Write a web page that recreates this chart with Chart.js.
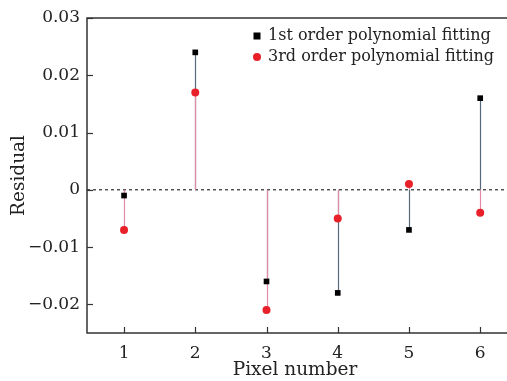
<!DOCTYPE html>
<html>
<head>
<meta charset="utf-8">
<script src="https://cdn.jsdelivr.net/npm/chart.js@4"></script>
<style>
  html, body { margin: 0; padding: 0; background: #fff; }
  #wrap { width: 507px; height: 381px; }
</style>
</head>
<body>
<div id="wrap"><canvas id="residualChart"></canvas></div>
<script>
const pixels = [1, 2, 3, 4, 5, 6];
const firstOrder = [-0.001, 0.024, -0.016, -0.018, -0.007, 0.016];
const thirdOrder = [-0.007, 0.017, -0.021, -0.005, 0.001, -0.004];
const xTicks = [1, 2, 3, 4, 5, 6];
const yTicks = [-0.02, -0.01, 0, 0.01, 0.02, 0.03];

const serif = "'DejaVu Serif', 'Liberation Serif', serif";
const axisColor = '#333';

function fmtY(v) {
    if (Math.abs(v) < 1e-9) return '0';
    const s = Math.abs(v).toFixed(2);
    return v < 0 ? '\u2212' + s : s;
}

// stems from zero, dashed zero line, inward ticks, legend
const stemPlugin = {
    id: 'stems',
    beforeDatasetsDraw(chart) {
        const ctx = chart.ctx;
        const x = chart.scales.x, y = chart.scales.y;
        const area = chart.chartArea;
        const y0 = y.getPixelForValue(0);
        ctx.save();
        ctx.strokeStyle = '#000';
        ctx.lineWidth = 1;
        ctx.setLineDash([3, 3]);
        ctx.beginPath();
        ctx.moveTo(area.left, y0);
        ctx.lineTo(chart.width, y0);
        ctx.stroke();
        ctx.setLineDash([]);
        chart.data.datasets.forEach(ds => {
            ctx.strokeStyle = ds.stemColor;
            ctx.lineWidth = 1.2;
            ds.data.forEach(p => {
                const px = Math.round(x.getPixelForValue(p.x)) + 0.5;
                ctx.beginPath();
                ctx.moveTo(px, y0);
                ctx.lineTo(px, y.getPixelForValue(p.y));
                ctx.stroke();
            });
        });
        ctx.restore();
    },
    afterDraw(chart) {
        const ctx = chart.ctx;
        const x = chart.scales.x, y = chart.scales.y;
        const area = chart.chartArea;
        ctx.save();
        // frame (left, top, bottom)
        ctx.strokeStyle = axisColor;
        ctx.lineWidth = 1.5;
        ctx.beginPath();
        ctx.moveTo(chart.width, area.top);
        ctx.lineTo(area.left, area.top);
        ctx.lineTo(area.left, area.bottom);
        ctx.lineTo(chart.width, area.bottom);
        ctx.stroke();
        ctx.lineWidth = 1.2;
        xTicks.forEach(t => {
            const px = Math.round(x.getPixelForValue(t)) + 0.5;
            ctx.beginPath();
            ctx.moveTo(px, area.bottom);
            ctx.lineTo(px, area.bottom - 6);
            ctx.stroke();
        });
        yTicks.forEach(t => {
            const py = Math.round(y.getPixelForValue(t)) + 0.5;
            ctx.beginPath();
            ctx.moveTo(area.left, py);
            ctx.lineTo(area.left + 6, py);
            ctx.stroke();
        });
        // legend
        ctx.font = '16px ' + serif;
        ctx.textBaseline = 'middle';
        const lx = 257, ly = [36, 57];
        chart.data.datasets.forEach((ds, i) => {
            ctx.fillStyle = ds.backgroundColor;
            if (ds.pointStyle === 'rect') {
                ctx.fillRect(lx - 3.5, ly[i] - 3.5, 7, 7);
            } else {
                ctx.beginPath();
                ctx.arc(lx, ly[i], 4, 0, Math.PI * 2);
                ctx.fill();
            }
            ctx.fillStyle = '#222';
            ctx.fillText(ds.label, lx + 11, ly[i]);
        });
        ctx.restore();
    }
};

new Chart(document.getElementById('residualChart'), {
    type: 'scatter',
    data: {
        datasets: [
            {
                label: '1st order polynomial fitting',
                data: pixels.map((p, i) => ({ x: p, y: firstOrder[i] })),
                pointStyle: 'rect',
                pointRadius: 4,
                backgroundColor: '#000',
                borderColor: '#000',
                borderWidth: 0,
                stemColor: '#55697a',
            },
            {
                label: '3rd order polynomial fitting',
                data: pixels.map((p, i) => ({ x: p, y: thirdOrder[i] })),
                pointStyle: 'circle',
                pointRadius: 4,
                backgroundColor: '#e8202a',
                borderColor: '#e8202a',
                borderWidth: 0,
                stemColor: '#e48aa6',
            },
        ],
    },
    options: {
        responsive: true,
        maintainAspectRatio: false,
        animation: false,
        layout: { padding: { top: 18, right: 0, left: 0, bottom: 0 } },
        plugins: {
            legend: { display: false },
            tooltip: { enabled: false },
        },
        scales: {
            x: {
                type: 'linear',
                min: 0.48,
                max: 6.32,
                afterBuildTicks: axis => {
                    axis.ticks = xTicks.map(v => ({ value: v }));
                },
                afterFit: axis => { axis.height = 48; },
                grid: { display: false, drawTicks: false },
                border: { display: false },
                ticks: {
                    color: '#222',
                    padding: 10,
                    font: { family: serif, size: 17 },
                },
                title: {
                    display: true,
                    text: 'Pixel number',
                    color: '#222',
                    padding: { top: 0, bottom: 0 },
                    font: { family: serif, size: 18.5 },
                },
            },
            y: {
                min: -0.025,
                max: 0.03,
                afterBuildTicks: axis => {
                    axis.ticks = yTicks.map(v => ({ value: v }));
                },
                afterFit: axis => { axis.width = 87; },
                grid: { display: false, drawTicks: false },
                border: { display: false },
                ticks: {
                    color: '#222',
                    padding: 7,
                    font: { family: serif, size: 17 },
                    callback: v => fmtY(v),
                },
                title: {
                    display: true,
                    text: 'Residual',
                    color: '#222',
                    padding: { top: 8, bottom: 0 },
                    font: { family: serif, size: 18.5 },
                },
            },
        },
    },
    plugins: [stemPlugin],
});
</script>
</body>
</html>
